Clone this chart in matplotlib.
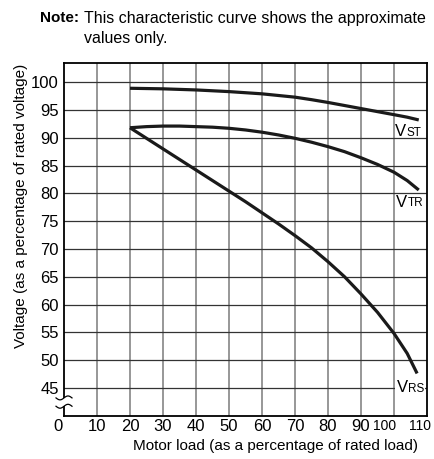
import matplotlib
matplotlib.use("Agg")
import matplotlib.pyplot as plt
import matplotlib.transforms as mtransforms
import numpy as np

plt.rcParams['font.family'] = ['Liberation Sans', 'DejaVu Sans']

# Data
load_st = [20, 25, 30, 35, 40, 45, 50, 55, 60, 65, 70, 75, 80, 85, 90, 95, 100, 104, 107.5]
v_st = [98.9, 98.85, 98.8, 98.7, 98.6, 98.45, 98.3, 98.1, 97.9, 97.6, 97.3, 96.85, 96.35, 95.8, 95.25, 94.7, 94.15, 93.7, 93.2]

load_tr = [20, 25, 30, 35, 40, 45, 50, 55, 60, 65, 70, 75, 80, 85, 90, 95, 100, 104, 107.5]
v_tr = [91.8, 92.0, 92.1, 92.1, 92.0, 91.9, 91.7, 91.4, 91.0, 90.5, 89.9, 89.2, 88.4, 87.5, 86.4, 85.2, 83.8, 82.3, 80.6]

load_rs = [20, 25, 30, 35, 40, 45, 50, 55, 60, 65, 70, 75, 80, 85, 90, 95, 100, 104, 107]
v_rs = [91.8, 89.9, 88.0, 86.1, 84.2, 82.3, 80.4, 78.5, 76.5, 74.5, 72.4, 70.2, 67.7, 65.0, 61.9, 58.6, 54.8, 51.2, 47.6]

x_ticks = [0, 10, 20, 30, 40, 50, 60, 70, 80, 90, 100, 110]
y_ticks = [45, 50, 55, 60, 65, 70, 75, 80, 85, 90, 95, 100]

labels = [("V", "ST", 100.3, 91.1), ("V", "TR", 100.6, 78.4), ("V", "RS", 100.8, 45.0)]

fig = plt.figure(figsize=(4.35, 4.59), dpi=100)
ax = fig.add_axes([64/435, 1 - 415.7/459, (427-64)/435, (415.7-62.7)/459])
ax.set_xlim(0, 110)
ax.set_ylim(40, 103.5)

for x in x_ticks[1:-1]:
    ax.axvline(x, color='#7a7a7a', lw=1.1, zorder=1)
for y in y_ticks:
    ax.axhline(y, color='#333333', lw=0.9, zorder=1)

for xs, ys in [(load_st, v_st), (load_tr, v_tr), (load_rs, v_rs)]:
    ax.plot(xs, ys, color='#1a1a1a', lw=2.3, solid_capstyle='butt', solid_joinstyle='round', zorder=3)

for big, small, x, y in labels:
    bb = dict(facecolor='white', edgecolor='none', pad=0.8) if small == 'RS' else None
    ax.text(x, y, big, fontsize=12, va='center', ha='left', zorder=4, bbox=bb)
    ax.annotate(small, xy=(x, y), xytext=(8.3, -0.9), textcoords='offset points',
                fontsize=8.5, va='center', ha='left', zorder=4, bbox=bb)

ax.set_xticks(x_ticks)
ax.set_yticks(y_ticks)
ax.set_xticklabels([])
ax.set_yticklabels([str(v) for v in y_ticks])
ax.tick_params(axis='both', length=0, labelsize=12)
ax.tick_params(axis='y', pad=3.6)

# x tick labels drawn manually (some are nudged and smaller in the original)
xt = ax.get_xaxis_transform()
nudge = {0: -6, 100: -9, 110: -7}
for v in x_ticks:
    off = mtransforms.ScaledTranslation(nudge.get(v, 0) / 100, -3 / 100, fig.dpi_scale_trans)
    ax.text(v, 0, str(v), transform=xt + off, ha='center', va='top',
            fontsize=10 if v >= 100 else 12, clip_on=False)

for sp in ax.spines.values():
    sp.set_color('black')
    sp.set_linewidth(1.3)

# axis break mark on the left spine
trans = ax.get_yaxis_transform()
ax.add_patch(plt.Rectangle((-0.01, 41.7), 0.02, 1.5, transform=trans, facecolor='white',
                           edgecolor='none', clip_on=False, zorder=5))
tt = np.linspace(-1, 1, 30)
for yb in (41.7, 43.2):
    ax.plot(tt * 0.022, yb + 0.35 * np.sin(tt * np.pi), transform=trans, color='black',
            lw=0.9, clip_on=False, zorder=6)

ax.set_ylabel("Voltage (as a percentage of rated voltage)", fontsize=11)
ax.yaxis.set_label_coords(-0.1, 0.593)
ax.set_xlabel("Motor load (as a percentage of rated load)", fontsize=11)
ax.xaxis.set_label_coords(0.584, -0.065)

fig.text(40/435, 1 - 18/459, "Note:", fontsize=11, fontweight='bold', va='center', ha='left')
fig.text(84/435, 1 - 18/459, "This characteristic curve shows the approximate", fontsize=11.5,
         va='center', ha='left')
fig.text(84/435, 1 - 39/459, "values only.", fontsize=11.5, va='center', ha='left')

fig.savefig("out.png", dpi=100)
